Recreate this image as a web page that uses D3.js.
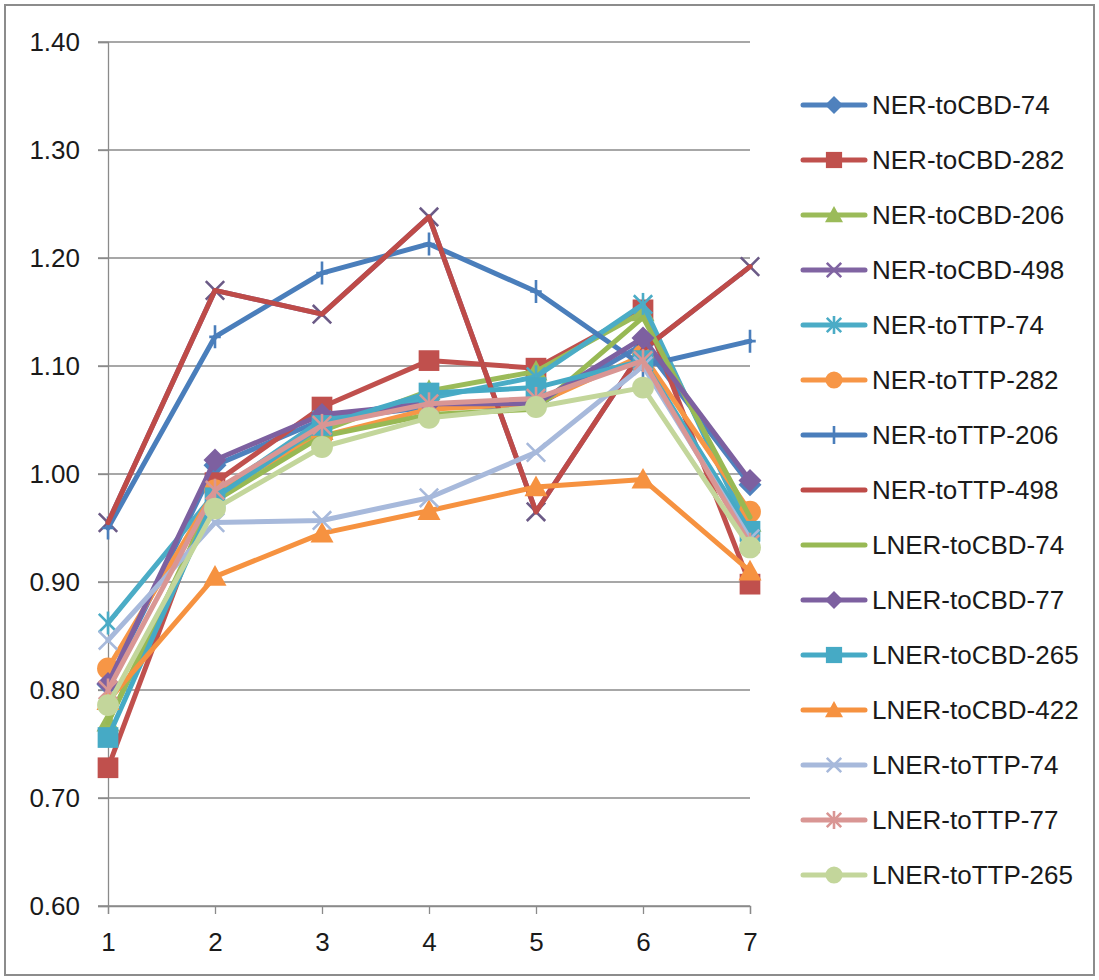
<!DOCTYPE html>
<html>
<head>
<meta charset="utf-8">
<script src="https://cdn.jsdelivr.net/npm/d3@7"></script>
<style>
  html, body { margin: 0; padding: 0; background: #fff; }
  svg text { font-family: "Liberation Sans", Arial, sans-serif; fill: #1a1a1a; }
</style>
</head>
<body>
<svg id="chart" width="1099" height="980"></svg>
<script>
// Categories on the horizontal axis
const categories = [1, 2, 3, 4, 5, 6, 7];
const yTicks = [0.6, 0.7, 0.8, 0.9, 1.0, 1.1, 1.2, 1.3, 1.4];

// Series values
const nerToCBD74   = [0.805, 1.008, 1.050, 1.062, 1.063, 1.120, 0.990];
const nerToCBD282  = [0.728, 0.992, 1.062, 1.105, 1.098, 1.152, 0.898];
const nerToCBD206  = [0.770, 0.980, 1.040, 1.077, 1.095, 1.150, 0.955];
const nerToCBD498  = [0.955, 1.170, 1.148, 1.238, 0.965, 1.115, 1.192];
const nerToTTP74   = [0.862, 0.982, 1.050, 1.070, 1.090, 1.157, 0.945];
const nerToTTP282  = [0.820, 0.985, 1.035, 1.060, 1.065, 1.110, 0.965];
const nerToTTP206  = [0.950, 1.127, 1.186, 1.213, 1.169, 1.100, 1.123];
const nerToTTP498  = [0.955, 1.170, 1.148, 1.238, 0.965, 1.115, 1.192];
const lnerToCBD74  = [0.770, 0.975, 1.035, 1.055, 1.060, 1.145, 0.960];
const lnerToCBD77  = [0.806, 1.013, 1.055, 1.065, 1.065, 1.126, 0.994];
const lnerToCBD265 = [0.756, 0.978, 1.045, 1.075, 1.080, 1.105, 0.947];
const lnerToCBD422 = [0.790, 0.905, 0.945, 0.966, 0.988, 0.995, 0.910];
const lnerToTTP74  = [0.846, 0.955, 0.957, 0.978, 1.020, 1.100, 0.940];
const lnerToTTP77  = [0.800, 0.985, 1.045, 1.065, 1.070, 1.105, 0.935];
const lnerToTTP265 = [0.786, 0.968, 1.025, 1.052, 1.062, 1.080, 0.932];

const seriesNames = [
  "NER-toCBD-74", "NER-toCBD-282", "NER-toCBD-206", "NER-toCBD-498",
  "NER-toTTP-74", "NER-toTTP-282", "NER-toTTP-206", "NER-toTTP-498",
  "LNER-toCBD-74", "LNER-toCBD-77", "LNER-toCBD-265", "LNER-toCBD-422",
  "LNER-toTTP-74", "LNER-toTTP-77", "LNER-toTTP-265"
];
const seriesValues = [
  nerToCBD74, nerToCBD282, nerToCBD206, nerToCBD498,
  nerToTTP74, nerToTTP282, nerToTTP206, nerToTTP498,
  lnerToCBD74, lnerToCBD77, lnerToCBD265, lnerToCBD422,
  lnerToTTP74, lnerToTTP77, lnerToTTP265
];
const seriesColors = [
  "#4F81BD", "#C0504D", "#9BBB59", "#8064A2", "#4BACC6", "#F79646",
  "#4A7EBB", "#BE4B48", "#98B954", "#7D60A0", "#46AAC5", "#F69240",
  "#A7B9DB", "#D99694", "#C3D69B"
];
const seriesMarkers = [
  "diamond", "square", "triangle", "x", "star", "circle",
  "plus", "none", "none", "diamond", "square", "triangle",
  "x", "star", "circle"
];

const series = seriesNames.map((name, i) => ({
  name, values: seriesValues[i], color: seriesColors[i], marker: seriesMarkers[i]
}));

const svg = d3.select("#chart");

// Chart frame
svg.append("rect")
  .attr("x", 5).attr("y", 5).attr("width", 1089).attr("height", 970)
  .attr("fill", "#fff").attr("stroke", "#8c8c8c").attr("stroke-width", 2);

const x = d3.scaleLinear().domain([1, 7]).range([108, 750]);
const y = d3.scaleLinear().domain([0.6, 1.4]).range([906, 42]);

// Horizontal gridlines
svg.append("g")
  .selectAll("line")
  .data(yTicks)
  .join("line")
  .attr("x1", x(1) - 10).attr("x2", x(7))
  .attr("y1", d => y(d)).attr("y2", d => y(d))
  .attr("stroke", "#8a8a8a").attr("stroke-width", 1.3);

// Y axis
const yAxis = svg.append("g")
  .attr("transform", `translate(${x(1)},0)`)
  .call(d3.axisLeft(y).tickValues(yTicks).tickFormat(d3.format(".2f")).tickSize(10).tickPadding(18));
yAxis.select(".domain").attr("stroke", "#8a8a8a").attr("stroke-width", 1.3);
yAxis.selectAll(".tick line").attr("stroke", "#8a8a8a").attr("stroke-width", 1.3);
yAxis.selectAll("text").style("font-size", "26px").attr("fill", "#1a1a1a")
  .style("font-family", "'Liberation Sans', Arial, sans-serif");

// X axis
const xAxis = svg.append("g")
  .attr("transform", `translate(0,${y(0.6)})`)
  .call(d3.axisBottom(x).tickValues(categories).tickFormat(d3.format("d")).tickSize(8).tickPadding(19));
xAxis.select(".domain").attr("stroke", "#8a8a8a").attr("stroke-width", 1.3);
xAxis.selectAll(".tick line").attr("stroke", "#8a8a8a").attr("stroke-width", 1.3);
xAxis.selectAll("text").style("font-size", "26px").attr("fill", "#1a1a1a")
  .style("font-family", "'Liberation Sans', Arial, sans-serif");

// Marker drawing
function drawMarker(g, type, color, size) {
  const h = size / 2;
  if (type === "diamond") {
    g.append("path").attr("d", `M0,${-h} L${h},0 L0,${h} L${-h},0 Z`).attr("fill", color);
  } else if (type === "square") {
    g.append("rect").attr("x", -h * 0.9).attr("y", -h * 0.9)
      .attr("width", h * 1.8).attr("height", h * 1.8).attr("fill", color);
  } else if (type === "triangle") {
    g.append("path").attr("d", `M0,${-h} L${h},${h * 0.8} L${-h},${h * 0.8} Z`).attr("fill", color);
  } else if (type === "circle") {
    g.append("circle").attr("r", h * 0.95).attr("fill", color);
  } else if (type === "x" || type === "star") {
    const k = h * 0.8;
    g.append("path").attr("d", `M${-k},${-k} L${k},${k} M${-k},${k} L${k},${-k}`)
      .attr("stroke", color).attr("stroke-width", 2.6).attr("fill", "none");
    if (type === "star") {
      g.append("path").attr("d", `M0,${-h} L0,${h}`)
        .attr("stroke", color).attr("stroke-width", 2.6);
    }
  } else if (type === "plus") {
    g.append("path").attr("d", `M0,${-h} L0,${h} M${-h * 0.5},0 L${h * 0.5},0`)
      .attr("stroke", color).attr("stroke-width", 2.6);
  }
}

const line = d3.line()
  .x((d, i) => x(categories[i]))
  .y(d => y(d));

// Series lines with markers
const plot = svg.append("g");
series.forEach(s => {
  const g = plot.append("g");
  g.append("path")
    .attr("d", line(s.values))
    .attr("fill", "none")
    .attr("stroke", s.color)
    .attr("stroke-width", 5)
    .attr("stroke-linejoin", "round")
    .attr("stroke-linecap", "round");
  const mColor = (s.marker === "x" && s.name === "NER-toCBD-498") ? "#6b5a86" : s.color;
  s.values.forEach((v, i) => {
    const mg = g.append("g").attr("transform", `translate(${x(categories[i])},${y(v)})`);
    drawMarker(mg, s.marker, mColor, 23);
  });
});

// Legend
const legend = svg.append("g");
series.forEach((s, i) => {
  const cy = 105 + i * 55;
  const g = legend.append("g").attr("transform", `translate(0,${cy})`);
  g.append("line")
    .attr("x1", 803).attr("x2", 865).attr("y1", 0).attr("y2", 0)
    .attr("stroke", s.color).attr("stroke-width", 5).attr("stroke-linecap", "round");
  const mg = g.append("g").attr("transform", "translate(834,0)");
  drawMarker(mg, s.marker, s.color, 18);
  g.append("text")
    .attr("x", 872).attr("y", 0).attr("dy", "0.35em")
    .style("font-size", "26px")
    .text(s.name);
});
</script>
</body>
</html>
